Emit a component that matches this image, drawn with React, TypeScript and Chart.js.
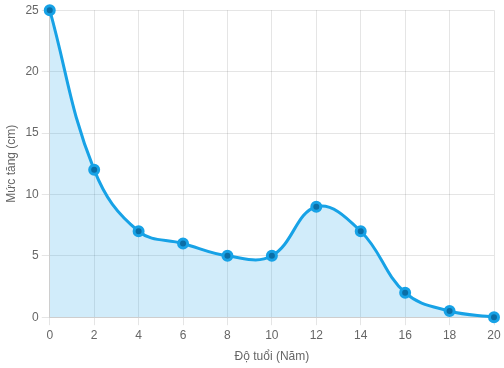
import React, { useEffect, useRef } from "react";
import { Chart, registerables } from "chart.js";

Chart.register(...registerables);

const ages = ["0", "2", "4", "6", "8", "10", "12", "14", "16", "18", "20"];
const growth = [25, 12, 7, 6, 5, 5, 9, 7, 2, 0.5, 0];
const xTitle = "Độ tuổi (Năm)";
const yTitle = "Mức tăng (cm)";

export default function App() {
  const ref = useRef<HTMLCanvasElement>(null);
  useEffect(() => {
    document.body.style.margin = "0";
    const ctx = ref.current!;
    const chart = new Chart(ctx, {
      type: "line",
      data: {
        labels: ages,
        datasets: [
          {
            data: growth,
            borderColor: "#17a2e6",
            backgroundColor: "rgba(23,162,230,0.2)",
            fill: true,
            tension: 0.4,
            borderWidth: 3,
            pointRadius: 4.5,
            pointBorderWidth: 3,
            pointBackgroundColor: "#0b6ea6",
            pointBorderColor: "#17a2e6",
            clip: false,
          },
        ],
      },
      options: {
        animation: false,
        responsive: false,
        maintainAspectRatio: false,
        plugins: { legend: { display: false }, tooltip: { enabled: false } },
        layout: { padding: { left: 0, right: 10, top: 10, bottom: 0 } },
        scales: {
          x: {
            grid: { color: "rgba(0,0,0,0.1)" },
            ticks: { color: "#666", font: { family: "Liberation Sans, Arial", size: 12 }, maxRotation: 0 },
            title: { display: true, text: xTitle, color: "#666", font: { family: "Liberation Sans, Arial", size: 12 } },
          },
          y: {
            min: 0,
            max: 25,
            grid: { color: "rgba(0,0,0,0.1)" },
            ticks: { stepSize: 5, color: "#666", font: { family: "Liberation Sans, Arial", size: 12 } },
            title: { display: true, text: yTitle, color: "#666", font: { family: "Liberation Sans, Arial", size: 12 } },
          },
        },
      },
    });
    return () => chart.destroy();
  }, []);
  return <canvas ref={ref} width={504} height={368} style={{ display: "block" }} />;
}
